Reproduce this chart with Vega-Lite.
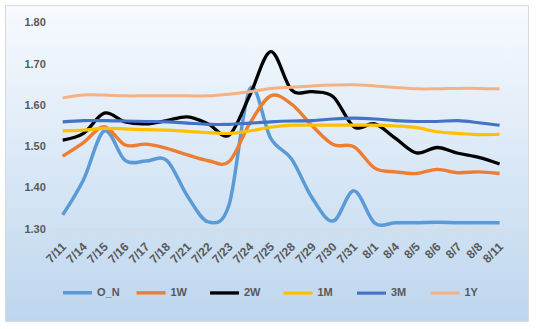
{
  "$schema": "https://vega.github.io/schema/vega-lite/v6.json",
  "width": 523,
  "height": 316,
  "autosize": {"type": "none"},
  "padding": {"left": 5, "top": 5, "right": 9, "bottom": 8},
  "background": "#ffffff",
  "config": {
    "view": {
      "stroke": "#d9d9d9",
      "strokeWidth": 1,
      "fill": {
        "gradient": "linear",
        "x1": 0, "y1": 0, "x2": 0, "y2": 1,
        "stops": [
          {"offset": 0, "color": "#f7fafe"},
          {"offset": 1, "color": "#bdd6ee"}
        ]
      }
    },
    "font": "Liberation Sans"
  },
  "data": {
    "values": [
      {"date": "7/11", "O_N": 1.335, "1W": 1.477, "2W": 1.516, "1M": 1.538, "3M": 1.560, "1Y": 1.618},
      {"date": "7/14", "O_N": 1.420, "1W": 1.510, "2W": 1.532, "1M": 1.540, "3M": 1.563, "1Y": 1.625},
      {"date": "7/15", "O_N": 1.538, "1W": 1.548, "2W": 1.581, "1M": 1.544, "3M": 1.563, "1Y": 1.625},
      {"date": "7/16", "O_N": 1.467, "1W": 1.504, "2W": 1.560, "1M": 1.543, "3M": 1.562, "1Y": 1.623},
      {"date": "7/17", "O_N": 1.465, "1W": 1.506, "2W": 1.555, "1M": 1.541, "3M": 1.561, "1Y": 1.623},
      {"date": "7/18", "O_N": 1.467, "1W": 1.496, "2W": 1.563, "1M": 1.540, "3M": 1.560, "1Y": 1.623},
      {"date": "7/21", "O_N": 1.380, "1W": 1.480, "2W": 1.572, "1M": 1.537, "3M": 1.557, "1Y": 1.623},
      {"date": "7/22", "O_N": 1.318, "1W": 1.466, "2W": 1.555, "1M": 1.534, "3M": 1.554, "1Y": 1.623},
      {"date": "7/23", "O_N": 1.360, "1W": 1.464, "2W": 1.528, "1M": 1.532, "3M": 1.554, "1Y": 1.627},
      {"date": "7/24", "O_N": 1.640, "1W": 1.557, "2W": 1.625, "1M": 1.538, "3M": 1.557, "1Y": 1.633},
      {"date": "7/25", "O_N": 1.520, "1W": 1.623, "2W": 1.730, "1M": 1.547, "3M": 1.560, "1Y": 1.641},
      {"date": "7/28", "O_N": 1.470, "1W": 1.603, "2W": 1.637, "1M": 1.552, "3M": 1.562, "1Y": 1.644},
      {"date": "7/29", "O_N": 1.375, "1W": 1.550, "2W": 1.633, "1M": 1.552, "3M": 1.563, "1Y": 1.647},
      {"date": "7/30", "O_N": 1.320, "1W": 1.505, "2W": 1.621, "1M": 1.552, "3M": 1.567, "1Y": 1.649},
      {"date": "7/31", "O_N": 1.393, "1W": 1.500, "2W": 1.548, "1M": 1.552, "3M": 1.569, "1Y": 1.650},
      {"date": "8/1", "O_N": 1.315, "1W": 1.448, "2W": 1.555, "1M": 1.552, "3M": 1.567, "1Y": 1.647},
      {"date": "8/4", "O_N": 1.316, "1W": 1.439, "2W": 1.520, "1M": 1.550, "3M": 1.563, "1Y": 1.643},
      {"date": "8/5", "O_N": 1.316, "1W": 1.435, "2W": 1.485, "1M": 1.546, "3M": 1.561, "1Y": 1.640},
      {"date": "8/6", "O_N": 1.317, "1W": 1.445, "2W": 1.498, "1M": 1.536, "3M": 1.561, "1Y": 1.640},
      {"date": "8/7", "O_N": 1.316, "1W": 1.437, "2W": 1.484, "1M": 1.532, "3M": 1.563, "1Y": 1.641},
      {"date": "8/8", "O_N": 1.316, "1W": 1.439, "2W": 1.474, "1M": 1.529, "3M": 1.558, "1Y": 1.641},
      {"date": "8/11", "O_N": 1.316, "1W": 1.435, "2W": 1.458, "1M": 1.530, "3M": 1.552, "1Y": 1.640}
    ]
  },
  "transform": [
    {"fold": ["O_N", "1W", "2W", "1M", "3M", "1Y"], "as": ["series", "value"]}
  ],
  "mark": {"type": "line", "interpolate": "cardinal"},
  "encoding": {
    "x": {
      "field": "date",
      "type": "ordinal",
      "sort": null,
      "bandPosition": 0.5,
      "scale": {"type": "band", "paddingInner": 0, "paddingOuter": 0, "range": [47.3, 505]},
      "axis": {
        "orient": "bottom",
        "offset": -91.7,
        "title": null,
        "grid": false,
        "tickBand": "extent",
        "domainColor": "#d9d9d9",
        "tickColor": "#d9d9d9",
        "tickSize": 5,
        "labelAngle": -45,
        "labelAlign": "right",
        "labelBaseline": "middle",
        "labelFontSize": 12,
        "labelFontWeight": "bold",
        "labelColor": "#595959",
        "labelPadding": 10,
        "labelOffset": 1
      }
    },
    "y": {
      "field": "value",
      "type": "quantitative",
      "scale": {"domain": [1.0781, 1.8428], "nice": false, "zero": false},
      "axis": {
        "orient": "left",
        "offset": -47.3,
        "title": null,
        "values": [1.3, 1.4, 1.5, 1.6, 1.7, 1.8],
        "format": ".2f",
        "domain": false,
        "ticks": false,
        "grid": false,
        "labelPadding": 7,
        "labelFontSize": 11,
        "labelFontWeight": "bold",
        "labelColor": "#595959"
      }
    },
    "color": {
      "field": "series",
      "type": "nominal",
      "sort": ["O_N", "1W", "2W", "1M", "3M", "1Y"],
      "scale": {
        "domain": ["O_N", "1W", "2W", "1M", "3M", "1Y"],
        "range": ["#5b9bd5", "#ed7d31", "#000000", "#ffc000", "#4472c4", "#f4b183"]
      },
      "legend": {
        "orient": "none",
        "legendX": 56,
        "legendY": 271,
        "direction": "horizontal",
        "columns": 6,
        "title": null,
        "symbolType": "stroke",
        "symbolSize": 841,
        "symbolStrokeWidth": 4,
        "labelFontSize": 11,
        "labelFontWeight": "bold",
        "labelColor": "#595959",
        "labelOffset": 3,
        "columnPadding": 9.5,
        "gridAlign": "all"
      }
    },
    "strokeWidth": {
      "field": "series",
      "type": "nominal",
      "scale": {
        "domain": ["O_N", "1W", "2W", "1M", "3M", "1Y"],
        "range": [3.5, 3, 3, 3.5, 2, 2.5]
      },
      "legend": null
    }
  }
}
